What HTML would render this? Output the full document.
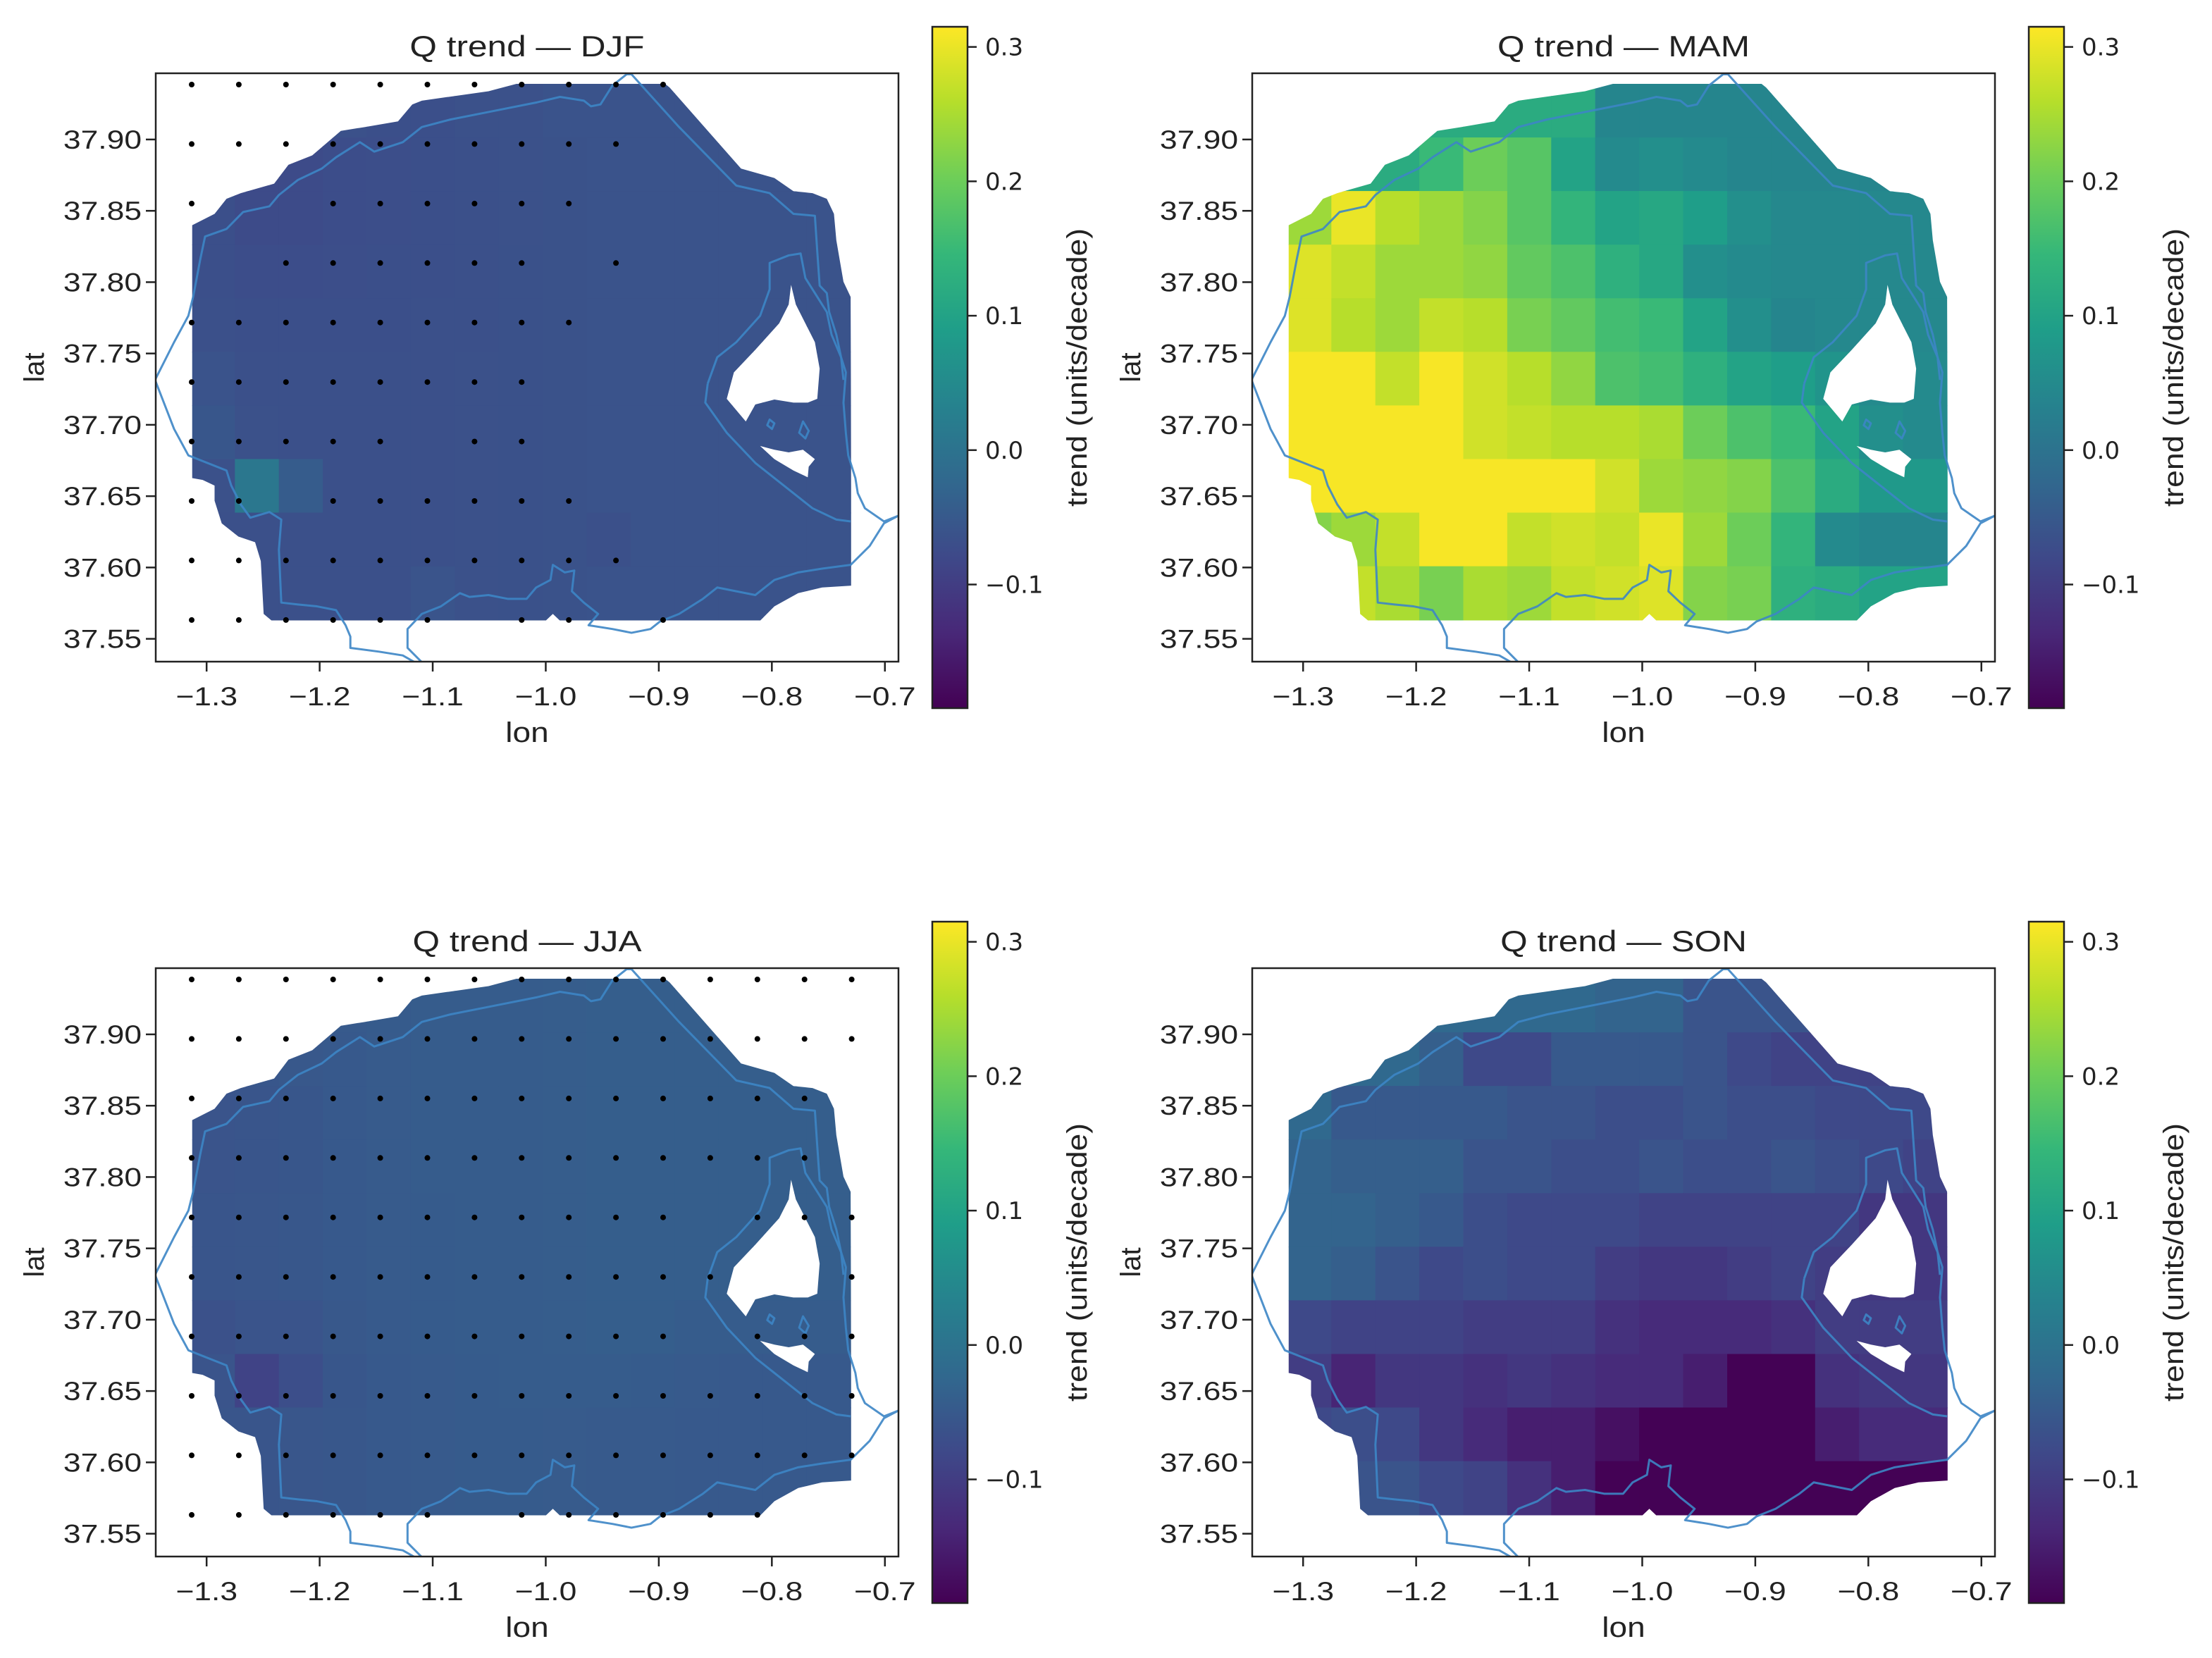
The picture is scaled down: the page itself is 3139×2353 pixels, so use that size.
<!DOCTYPE html>
<html><head><meta charset="utf-8"><style>
html,body{margin:0;padding:0;background:#fff;}
svg{display:block;}
text{font-family:"Liberation Sans","DejaVu Sans",sans-serif;fill:#222;}
</style></head><body>
<svg id="fig" xmlns="http://www.w3.org/2000/svg" width="3139" height="2353" viewBox="0 0 3139 2353">
<defs>
<linearGradient id="viridisGrad" x1="0" y1="1" x2="0" y2="0">
<stop offset="0" stop-color="#440154"/><stop offset="0.111" stop-color="#482878"/><stop offset="0.222" stop-color="#3e4989"/><stop offset="0.333" stop-color="#31688e"/><stop offset="0.444" stop-color="#26828e"/><stop offset="0.556" stop-color="#1f9e89"/><stop offset="0.667" stop-color="#35b779"/><stop offset="0.778" stop-color="#6ece58"/><stop offset="0.889" stop-color="#b5de2b"/><stop offset="1" stop-color="#fde725"/>
</linearGradient>
<clipPath id="frameClip"><rect x="0" y="0" width="1054" height="835"/></clipPath>
<clipPath id="maskClip"><path transform="translate(-1,-4) scale(0.6761,0.5356)" clip-rule="evenodd" d="M760,35 L1070,35 L1080,45 L1230,260 L1300,285 L1340,320 L1380,325 L1410,340 L1425,380 L1430,450 L1445,560 L1460,600 L1462,1365 L1400,1370 L1350,1385 L1300,1420 L1270,1458 L850,1458 L835,1440 L820,1458 L245,1458 L228,1440 L222,1300 L210,1250 L175,1235 L140,1200 L125,1140 L125,1100 L100,1085 L78,1080 L78,410 L125,380 L150,340 L180,325 L250,300 L280,250 L330,225 L390,160 L440,150 L510,135 L540,90 L560,80 L700,55 Z M1335,568 L1345,620 L1385,720 L1395,790 L1390,870 L1370,880 L1340,880 L1300,872 L1260,885 L1240,930 L1200,870 L1215,800 L1260,740 L1310,670 L1330,620 Z M1270,995 L1300,1030 L1340,1060 L1370,1078 L1372,1050 L1385,1030 L1360,1005 L1330,1012 L1300,1005 Z"/></clipPath>
</defs>
</svg>
<script>
// ---- data ----
const seasons = ['DJF','MAM','JJA','SON'];
const lonTicks = [-1.3,-1.2,-1.1,-1.0,-0.9,-0.8,-0.7];
const lonTickLabels = ['\u22121.3','\u22121.2','\u22121.1','\u22121.0','\u22120.9','\u22120.8','\u22120.7'];
const latTicks = [37.90,37.85,37.80,37.75,37.70,37.65,37.60,37.55];
const latTickLabels = ['37.90','37.85','37.80','37.75','37.70','37.65','37.60','37.55'];
const cbarTicks = [0.3,0.2,0.1,0.0,-0.1];
const cbarTickLabels = ['0.3','0.2','0.1','0.0','\u22120.1'];
const vMin = -0.192, vMax = 0.315;
const cellLon0 = -1.3139, cellDLon = 0.0389, cellLat0 = 37.939, cellDLat = 0.03757;
const dotLon0 = -1.3132, dotDLon = 0.0417, dotLat0 = 37.9385, dotDLat = 0.0417;

const djfValues = [
[-0.065,-0.065,-0.065,-0.065,-0.068,-0.068,-0.065,-0.065,-0.062,-0.062,-0.062,-0.062,-0.062,-0.062,-0.062],
[-0.065,-0.075,-0.075,-0.072,-0.07,-0.068,-0.066,-0.065,-0.063,-0.062,-0.062,-0.062,-0.062,-0.062,-0.062],
[-0.068,-0.075,-0.075,-0.072,-0.07,-0.068,-0.066,-0.065,-0.063,-0.062,-0.062,-0.062,-0.062,-0.062,-0.062],
[-0.068,-0.072,-0.072,-0.07,-0.068,-0.068,-0.066,-0.064,-0.063,-0.062,-0.062,-0.062,-0.062,-0.062,-0.062],
[-0.066,-0.068,-0.068,-0.068,-0.068,-0.066,-0.066,-0.064,-0.063,-0.062,-0.062,-0.062,-0.062,-0.062,-0.062],
[-0.062,-0.066,-0.066,-0.066,-0.066,-0.066,-0.065,-0.064,-0.063,-0.062,-0.062,-0.062,-0.062,-0.062,-0.062],
[-0.055,-0.065,-0.066,-0.066,-0.066,-0.066,-0.065,-0.064,-0.063,-0.062,-0.062,-0.062,-0.062,-0.062,-0.062],
[-0.065,0.01,-0.045,-0.066,-0.066,-0.066,-0.065,-0.064,-0.063,-0.062,-0.062,-0.062,-0.062,-0.062,-0.062],
[-0.066,-0.066,-0.066,-0.066,-0.066,-0.066,-0.065,-0.064,-0.063,-0.066,-0.062,-0.062,-0.062,-0.062,-0.062],
[-0.066,-0.066,-0.066,-0.066,-0.066,-0.06,-0.065,-0.064,-0.063,-0.062,-0.062,-0.062,-0.062,-0.062,-0.062]];

const mamValues = [
[0.12,0.12,0.12,0.12,0.12,0.12,0.12,0.04,0.04,0.04,0.04,0.04,0.04,0.04,0.04],
[0.12,0.12,0.12,0.15,0.2,0.18,0.1,0.05,0.06,0.05,0.04,0.04,0.04,0.04,0.04],
[0.24,0.3,0.26,0.24,0.22,0.18,0.14,0.1,0.11,0.09,0.06,0.045,0.045,0.045,0.045],
[0.29,0.27,0.24,0.24,0.23,0.19,0.17,0.13,0.11,0.06,0.05,0.045,0.045,0.045,0.045],
[0.29,0.26,0.24,0.27,0.26,0.21,0.19,0.16,0.15,0.1,0.06,0.04,0.045,0.045,0.045],
[0.31,0.31,0.27,0.31,0.28,0.26,0.23,0.17,0.16,0.13,0.1,0.09,0.07,0.05,0.05],
[0.31,0.31,0.31,0.31,0.28,0.27,0.26,0.26,0.25,0.2,0.17,0.15,0.1,0.06,0.05],
[0.31,0.31,0.31,0.31,0.31,0.31,0.31,0.28,0.24,0.23,0.22,0.17,0.12,0.08,0.08],
[0.22,0.24,0.27,0.31,0.31,0.27,0.28,0.27,0.3,0.24,0.2,0.14,0.05,0.04,0.04],
[0.26,0.27,0.25,0.21,0.25,0.24,0.27,0.28,0.29,0.22,0.21,0.13,0.12,0.1,0.1]];

const jjaValues = [
[-0.05,-0.05,-0.05,-0.048,-0.046,-0.045,-0.045,-0.044,-0.043,-0.042,-0.042,-0.042,-0.042,-0.042,-0.042],
[-0.055,-0.055,-0.052,-0.05,-0.047,-0.045,-0.045,-0.044,-0.043,-0.042,-0.042,-0.042,-0.042,-0.042,-0.042],
[-0.06,-0.058,-0.055,-0.05,-0.047,-0.045,-0.045,-0.044,-0.043,-0.042,-0.042,-0.042,-0.042,-0.042,-0.042],
[-0.06,-0.058,-0.055,-0.05,-0.047,-0.045,-0.045,-0.044,-0.043,-0.042,-0.042,-0.042,-0.042,-0.042,-0.042],
[-0.058,-0.056,-0.053,-0.05,-0.047,-0.046,-0.045,-0.044,-0.043,-0.042,-0.042,-0.042,-0.042,-0.042,-0.042],
[-0.058,-0.056,-0.053,-0.05,-0.047,-0.046,-0.045,-0.044,-0.043,-0.042,-0.042,-0.042,-0.042,-0.042,-0.042],
[-0.065,-0.06,-0.06,-0.052,-0.048,-0.046,-0.045,-0.044,-0.043,-0.042,-0.042,-0.044,-0.045,-0.045,-0.045],
[-0.06,-0.09,-0.07,-0.055,-0.05,-0.048,-0.046,-0.045,-0.045,-0.045,-0.046,-0.048,-0.05,-0.05,-0.05],
[-0.058,-0.058,-0.056,-0.053,-0.05,-0.048,-0.046,-0.046,-0.047,-0.048,-0.048,-0.05,-0.05,-0.05,-0.05],
[-0.058,-0.058,-0.056,-0.053,-0.05,-0.048,-0.046,-0.046,-0.047,-0.048,-0.048,-0.05,-0.05,-0.05,-0.05]];

const sonValues = [
[-0.02,-0.02,-0.02,-0.02,-0.02,-0.02,-0.02,-0.03,-0.03,-0.06,-0.06,-0.06,-0.06,-0.06,-0.06],
[-0.02,-0.02,-0.02,-0.04,-0.08,-0.08,-0.05,-0.05,-0.05,-0.06,-0.08,-0.09,-0.09,-0.09,-0.09],
[-0.02,-0.05,-0.05,-0.05,-0.05,-0.06,-0.06,-0.07,-0.07,-0.06,-0.07,-0.07,-0.08,-0.08,-0.08],
[-0.03,-0.04,-0.04,-0.04,-0.06,-0.06,-0.07,-0.07,-0.06,-0.07,-0.07,-0.06,-0.07,-0.08,-0.09],
[-0.03,-0.03,-0.04,-0.05,-0.07,-0.08,-0.08,-0.08,-0.09,-0.09,-0.09,-0.09,-0.09,-0.11,-0.11],
[-0.03,-0.04,-0.06,-0.08,-0.07,-0.08,-0.08,-0.1,-0.11,-0.11,-0.1,-0.09,-0.1,-0.11,-0.11],
[-0.08,-0.09,-0.09,-0.09,-0.1,-0.1,-0.1,-0.12,-0.13,-0.13,-0.13,-0.12,-0.1,-0.1,-0.1],
[-0.1,-0.14,-0.11,-0.11,-0.12,-0.11,-0.12,-0.13,-0.13,-0.15,-0.19,-0.19,-0.12,-0.11,-0.11],
[-0.08,-0.07,-0.08,-0.11,-0.13,-0.15,-0.15,-0.17,-0.19,-0.19,-0.19,-0.19,-0.15,-0.13,-0.13],
[-0.06,-0.06,-0.06,-0.08,-0.09,-0.12,-0.15,-0.19,-0.19,-0.19,-0.19,-0.19,-0.19,-0.19,-0.19]];

// stippling: column indices per row (significant points)
const djfStipple = [
[0,1,2,3,4,5,6,7,8,9,10],
[0,1,2,3,4,5,6,7,8,9],
[0,3,4,5,6,7,8],
[2,3,4,5,6,7,9],
[0,1,2,3,4,5,6,7,8],
[0,1,2,3,4,5,6,7],
[0,1,2,3,4,6,7],
[0,1,3,4,5,6,7,8],
[0,1,2,3,4,5,6,7,8,9],
[0,1,2,3,4,5,7,8,10]];
const mamStipple = [[],[],[],[],[],[],[],[],[],[]];
const jjaStipple = [
[0,1,2,3,4,5,6,7,8,9,10,11,12,13,14],
[0,1,2,3,4,5,6,7,8,9,10,11,12,13,14],
[0,1,2,3,4,5,6,7,8,9,10,11,12,13],
[0,1,2,3,4,5,6,7,8,9,10,11,12,13],
[0,1,2,3,4,5,6,7,8,9,10,12,13,14],
[0,1,2,3,4,5,6,7,8,9,10,11,14],
[0,1,2,3,4,5,6,7,8,9,10,12,13,14],
[0,1,2,3,4,5,6,7,8,9,10,11,12,13,14],
[0,1,2,3,4,5,6,7,8,9,10,11,12,13,14],
[0,1,2,3,4,5,7,8,9,10,11,12]];
const sonStipple = [[],[],[],[],[],[],[],[],[],[]];

// ---- layout ----
const NS = 'http://www.w3.org/2000/svg';
const fig = document.getElementById('fig');
const W = 1054, H = 835;
const lonMin = -1.345, lonMax = -0.688, latMax = 37.9464, latMin = 37.534;
const xS = lon => (lon - lonMin) / (lonMax - lonMin) * W;
const yS = lat => (latMax - lat) / (latMax - latMin) * H;
const cbTop = 38, cbBot = 1005;
const cbS = v => cbBot - (v - vMin) / (vMax - vMin) * (cbBot - cbTop);

const vir = ['#440154','#482878','#3e4989','#31688e','#26828e','#1f9e89','#35b779','#6ece58','#b5de2b','#fde725'];
function hx(c){return [parseInt(c.substr(1,2),16),parseInt(c.substr(3,2),16),parseInt(c.substr(5,2),16)];}
function viridis(v){
  let t=(v-vMin)/(vMax-vMin); t=Math.max(0,Math.min(1,t));
  const p=t*9, i=Math.min(8,Math.floor(p)), f=p-i;
  const a=hx(vir[i]), b=hx(vir[i+1]);
  return 'rgb('+a.map((x,k)=>Math.round(x+(b[k]-x)*f)).join(',')+')';
}
function el(tag, attrs, parent){
  const e=document.createElementNS(NS,tag);
  for(const k in attrs) e.setAttribute(k,attrs[k]);
  (parent||fig).appendChild(e); return e;
}
function txt(parent,x,y,s,size,anchor,stretch,family){
  const t=el('text',{x:x,y:y,'font-size':size,'text-anchor':anchor},parent);
  if(family) t.setAttribute('style','font-family:'+family);
  t.textContent=s;
  if(stretch && stretch!==1){
    const L=t.getComputedTextLength();
    t.setAttribute('textLength',(L*stretch).toFixed(1));
    t.setAttribute('lengthAdjust','spacingAndGlyphs');
  }
  return t;
}

const coastPaths = [
"M0,820 L40,720 L70,650 L80,600 L95,500 L105,440 L150,420 L185,375 L240,360 L260,330 L300,290 L350,260 L380,230 L430,190 L460,215 L520,190 L560,150 L620,130 L700,110 L800,85 L850,70 L900,80 L915,95 L935,90 L960,40 L990,10 L1000,10 L1100,150 L1220,305 L1290,325 L1340,380 L1385,385 L1390,480 L1395,570 L1410,590 L1415,640 L1430,700 L1440,760 L1450,800 L1445,880 L1450,960 L1455,1020 L1470,1080 L1475,1120 L1490,1160 L1530,1195 L1560,1180",
"M0,820 L40,950 L70,1020 L150,1060 L160,1100 L180,1150 L200,1185 L240,1170 L265,1190 L260,1270 L265,1410 L300,1415 L340,1420 L380,1430 L400,1470 L410,1500 L410,1530 L470,1540 L520,1550 L545,1568",
"M560,1568 L530,1530 L530,1480 L560,1440 L600,1420 L640,1385 L660,1395 L700,1390 L740,1400 L780,1400 L800,1370 L830,1350 L835,1310 L860,1330 L880,1325 L875,1380 L900,1410 L930,1440 L910,1470 L960,1480 L1000,1490 L1040,1480 L1060,1460 L1100,1440 L1150,1400 L1180,1370 L1220,1380 L1260,1390 L1300,1350 L1350,1330 L1400,1320 L1460,1310 L1500,1260 L1530,1200 L1560,1180",
"M1160,830 L1180,760 L1220,720 L1270,650 L1290,580 L1290,510 L1330,490 L1355,485 L1365,550 L1390,600 L1410,640 L1420,700 L1440,760 L1445,820",
"M1160,830 L1155,880 L1200,960 L1260,1040 L1320,1100 L1380,1160 L1430,1190 L1460,1195",
"M1290,925 L1300,935 L1295,950 L1285,940 Z",
"M1360,930 L1372,955 L1365,975 L1352,960 Z"];

const allValues = [djfValues, mamValues, jjaValues, sonValues];
const allStipple = [djfStipple, mamStipple, jjaStipple, sonStipple];
const offsets = [[0,0],[1556,0],[0,1270],[1556,1270]];

seasons.forEach((season, si) => {
  const [ox, oy] = offsets[si];
  const panel = el('g',{transform:`translate(${ox},${oy})`});
  
  

  const title = txt(panel, 221 + W/2, 80, 'Q trend \u2014 ' + season, 42, 'middle', 1.18);
  
  

  const ax = el('g',{transform:'translate(221,104)'},panel);
  
  
  const inner = el('g',{'clip-path':'url(#frameClip)'},ax);

  const heat = el('g',{'clip-path':'url(#maskClip)'},inner);
  
  
  const vals = allValues[si];
  vals.forEach((row, r) => {
    row.forEach((v, c) => {
      const x0 = xS(cellLon0 + c*cellDLon), x1 = xS(cellLon0 + (c+1)*cellDLon);
      const y0 = yS(cellLat0 - r*cellDLat), y1 = yS(cellLat0 - (r+1)*cellDLat);
      const rc = el('rect',{x:x0.toFixed(1),y:y0.toFixed(1),width:(x1-x0+0.8).toFixed(1),height:(y1-y0+0.8).toFixed(1),fill:viridis(v)},heat);
      
      
    });
  });

  const coast = el('g',{transform:'translate(-1,-4) scale(0.6761,0.5356)',fill:'none',stroke:'#3d86c6','stroke-width':3,'stroke-linejoin':'round',opacity:0.9},inner);
  
  
  coastPaths.forEach(d => {
    const p = el('path',{d:d,'vector-effect':'non-scaling-stroke'},coast);
    
    
  });

  const st = el('g',{fill:'#000'},inner);
  
  
  allStipple[si].forEach((cols, r) => {
    cols.forEach(c => {
      const d = el('circle',{cx:xS(dotLon0 + c*dotDLon).toFixed(1),cy:yS(dotLat0 - r*dotDLat).toFixed(1),r:4},st);
      
      
    });
  });

  const fr = el('rect',{x:0,y:0,width:W,height:H,fill:'none',stroke:'#222','stroke-width':2.5},ax);
  
  

  lonTicks.forEach((lon, i) => {
    const x = xS(lon);
    el('line',{x1:x,y1:H,x2:x,y2:H+14,stroke:'#222','stroke-width':2.5},ax);
    const t = txt(ax, x, H+62, lonTickLabels[i], 37, 'middle', 1.2);
    
    
  });
  const xl = txt(ax, W/2, H+114, 'lon', 40, 'middle', 1.15);
  
  

  latTicks.forEach((lat, i) => {
    const y = yS(lat);
    el('line',{x1:-14,y1:y,x2:0,y2:y,stroke:'#222','stroke-width':2.5},ax);
    const t = txt(ax, -20, y+13, latTickLabels[i], 37, 'end', 1.2);
    
    
  });
  const yl = txt(panel, 0, 0, 'lat', 40, 'middle', 1);
  yl.setAttribute('transform', `translate(62,${104+H/2}) rotate(-90)`);
  
  

  const cb = el('g',{},panel);
  
  
  el('rect',{x:1323,y:cbTop,width:50,height:cbBot-cbTop,fill:'url(#viridisGrad)',stroke:'#222','stroke-width':2.5},cb);
  cbarTicks.forEach((v, i) => {
    const y = cbS(v);
    el('line',{x1:1373,y1:y,x2:1386,y2:y,stroke:'#222','stroke-width':2.5},cb);
    const t = txt(cb, 1398, y+12, cbarTickLabels[i], 34, 'start', 1, '"DejaVu Sans",sans-serif');
    
    
  });
  const cl = txt(cb, 0, 0, 'trend (units/decade)', 40, 'middle', 1);
  cl.setAttribute('transform', `translate(1542,${(cbTop+cbBot)/2}) rotate(-90)`);
  cl.setAttribute('textLength', '395');
  cl.setAttribute('lengthAdjust', 'spacingAndGlyphs');
  
  
});
</script>
</body></html>
